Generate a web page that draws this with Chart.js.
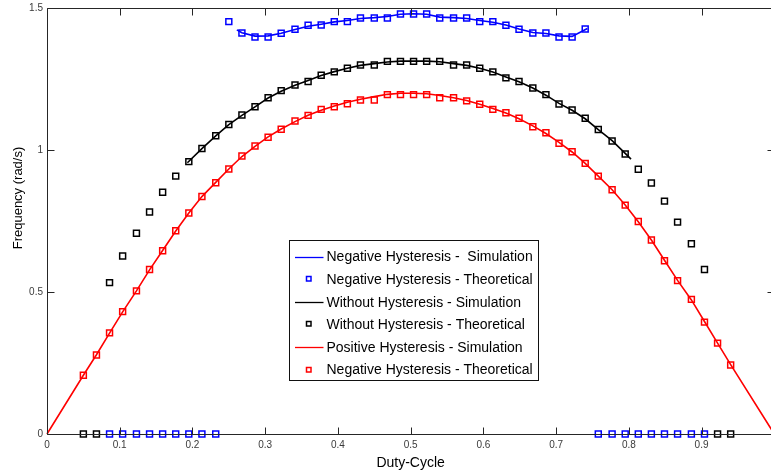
<!DOCTYPE html>
<html>
<head>
<meta charset="utf-8">
<title>Frequency vs Duty-Cycle</title>
<script src="https://cdn.jsdelivr.net/npm/chart.js@4/dist/chart.umd.min.js"></script>
<style>
    html, body { margin: 0; padding: 0; background: #fff; overflow: hidden; }
    #wrap { width: 780px; height: 474px; }
</style>
</head>
<body>
<div id="wrap"><canvas id="freqChart" width="780" height="474"></canvas></div>
<script>
// Duty-cycle values where the theoretical frequency was evaluated
const dutyGrid = [
    0.050, 0.068, 0.086, 0.104, 0.123, 0.141, 0.159, 0.177, 0.195, 0.213,
    0.232, 0.250, 0.268, 0.286, 0.304, 0.322, 0.341, 0.359, 0.377, 0.395,
    0.413, 0.431, 0.450, 0.468, 0.486, 0.504, 0.522, 0.540, 0.559, 0.577,
    0.595, 0.613, 0.631, 0.649, 0.668, 0.686, 0.704, 0.722, 0.740, 0.758,
    0.777, 0.795, 0.813, 0.831, 0.849, 0.867, 0.886, 0.904, 0.922, 0.940
];

// Theoretical frequency (rad/s), one value per duty-cycle point (null = not plotted)
const negTheory = [
    null, null, 0, 0, 0, 0, 0, 0, 0, 0,
    0, 1.452, 1.412, 1.398, 1.398, 1.411, 1.425, 1.439, 1.440, 1.452,
    1.452, 1.465, 1.465, 1.465, 1.479, 1.479, 1.479, 1.465, 1.465, 1.465,
    1.452, 1.452, 1.439, 1.425, 1.412, 1.412, 1.398, 1.398, 1.426, 0,
    0, 0, 0, 0, 0, 0, 0, 0, null, null
];
const zeroTheory = [
    0, 0, 0.533, 0.627, 0.707, 0.782, 0.851, 0.908, 0.959, 1.005,
    1.050, 1.090, 1.123, 1.152, 1.184, 1.209, 1.229, 1.241, 1.263, 1.275,
    1.288, 1.299, 1.299, 1.312, 1.312, 1.312, 1.312, 1.312, 1.299, 1.299,
    1.288, 1.275, 1.254, 1.241, 1.218, 1.195, 1.162, 1.141, 1.112, 1.072,
    1.032, 0.986, 0.932, 0.884, 0.820, 0.746, 0.670, 0.579, 0, 0
];
const posTheory = [
    0.207, 0.278, 0.356, 0.431, 0.504, 0.579, 0.645, 0.716, 0.778, 0.836,
    0.885, 0.933, 0.979, 1.014, 1.045, 1.073, 1.102, 1.122, 1.143, 1.152,
    1.163, 1.176, 1.176, 1.195, 1.195, 1.195, 1.195, 1.184, 1.184, 1.173,
    1.161, 1.143, 1.131, 1.112, 1.082, 1.061, 1.024, 0.994, 0.953, 0.908,
    0.860, 0.806, 0.748, 0.683, 0.610, 0.540, 0.474, 0.394, 0.320, 0.243
];

// Simulated curves
const negSimDuty = [
    0.261, 0.268, 0.286, 0.304, 0.322, 0.341, 0.359, 0.377, 0.395, 0.413,
    0.431, 0.450, 0.468, 0.486, 0.504, 0.522, 0.540, 0.559, 0.577, 0.595,
    0.613, 0.631, 0.649, 0.668, 0.686, 0.704, 0.722, 0.743
];
const negSimFreq = [
    1.423, 1.413, 1.401, 1.402, 1.411, 1.424, 1.436, 1.443, 1.451, 1.456,
    1.463, 1.466, 1.470, 1.478, 1.480, 1.478, 1.468, 1.466, 1.463, 1.456,
    1.450, 1.440, 1.426, 1.414, 1.410, 1.402, 1.400, 1.428
];
const zeroSimDuty = [
    0.193, 0.213, 0.232, 0.250, 0.268, 0.286, 0.304, 0.322, 0.341, 0.359,
    0.377, 0.395, 0.413, 0.431, 0.450, 0.468, 0.486, 0.504, 0.522, 0.540,
    0.559, 0.577, 0.595, 0.613, 0.631, 0.649, 0.668, 0.686, 0.704, 0.722,
    0.740, 0.758, 0.777, 0.795, 0.803
];
const zeroSimFreq = [
    0.955, 1.005, 1.050, 1.089, 1.122, 1.152, 1.183, 1.207, 1.228, 1.245,
    1.262, 1.276, 1.288, 1.298, 1.304, 1.310, 1.313, 1.313, 1.313, 1.311,
    1.304, 1.298, 1.288, 1.275, 1.257, 1.240, 1.218, 1.193, 1.164, 1.140,
    1.110, 1.072, 1.033, 0.988, 0.968
];
const posSimDuty = [
    0, 0.050, 0.068, 0.086, 0.104, 0.123, 0.141, 0.159, 0.177, 0.195,
    0.213, 0.232, 0.250, 0.268, 0.286, 0.304, 0.322, 0.341, 0.359, 0.377,
    0.395, 0.413, 0.431, 0.450, 0.468, 0.486, 0.504, 0.522, 0.540, 0.559,
    0.577, 0.595, 0.613, 0.631, 0.649, 0.668, 0.686, 0.704, 0.722, 0.740,
    0.758, 0.777, 0.795, 0.813, 0.831, 0.849, 0.867, 0.886, 0.904, 0.922,
    0.940, 1.0
];
const posSimFreq = [
    0, 0.207, 0.279, 0.355, 0.430, 0.504, 0.578, 0.646, 0.715, 0.778,
    0.836, 0.886, 0.933, 0.977, 1.013, 1.046, 1.074, 1.100, 1.122, 1.140,
    1.155, 1.168, 1.179, 1.188, 1.196, 1.200, 1.200, 1.198, 1.192, 1.184,
    1.174, 1.161, 1.146, 1.130, 1.110, 1.085, 1.058, 1.027, 0.993, 0.953,
    0.908, 0.860, 0.806, 0.747, 0.683, 0.612, 0.541, 0.472, 0.396, 0.320,
    0.244, 0
];

// Axis ticks
const xTicks = [0, 0.1, 0.2, 0.3, 0.4, 0.5, 0.6, 0.7, 0.8, 0.9, 1];
const yTicks = [0, 0.5, 1, 1.5];

const AXIS_COLOR = '#262626';
const FONT = "'Liberation Sans', Arial, sans-serif";

function toPoints(xs, ys) {
    const pts = [];
    xs.forEach((x, i) => {
        if (ys[i] !== null) pts.push({ x: x, y: ys[i] });
    });
    return pts;
}

function simLine(label, color, xs, ys) {
    return {
        label: label,
        data: toPoints(xs, ys),
        showLine: true,
        borderColor: color,
        backgroundColor: color,
        borderWidth: 1.6,
        pointRadius: 0,
        tension: 0,
        clip: false
    };
}

function theoryMarks(label, color, ys) {
    return {
        label: label,
        data: toPoints(dutyGrid, ys),
        showLine: false,
        borderColor: color,
        backgroundColor: 'rgba(0,0,0,0)',
        pointStyle: 'rect',
        pointRadius: 4.2,
        pointBorderWidth: 1.5,
        pointBorderColor: color,
        pointBackgroundColor: 'rgba(0,0,0,0)',
        clip: false
    };
}

// Frame with inward tick marks on all four sides, plus axis titles
const framePlugin = {
    id: 'framePlugin',
    afterDraw(chart) {
        const ctx = chart.ctx;
        const area = chart.chartArea;
        const xs = chart.scales.x;
        const ys = chart.scales.y;
        const L = Math.round(area.left) + 0.5;
        const R = Math.round(area.right) + 0.5;
        const T = Math.round(area.top) + 0.5;
        const B = Math.round(area.bottom) + 0.5;
        const tick = 7;

        ctx.save();
        ctx.strokeStyle = AXIS_COLOR;
        ctx.lineWidth = 1;
        ctx.beginPath();
        ctx.moveTo(L, T); ctx.lineTo(R, T);
        ctx.moveTo(L, B); ctx.lineTo(R, B);
        ctx.moveTo(L, T); ctx.lineTo(L, B);
        ctx.moveTo(R, T); ctx.lineTo(R, B);

        xTicks.forEach(v => {
            const px = Math.round(xs.getPixelForValue(v)) + 0.5;
            ctx.moveTo(px, B); ctx.lineTo(px, B - tick);
            ctx.moveTo(px, T); ctx.lineTo(px, T + tick);
        });
        yTicks.forEach(v => {
            const py = Math.round(ys.getPixelForValue(v)) + 0.5;
            ctx.moveTo(L, py); ctx.lineTo(L + tick, py);
            ctx.moveTo(R, py); ctx.lineTo(R - tick, py);
        });
        ctx.stroke();

        // Axis titles
        ctx.fillStyle = '#000';
        ctx.textAlign = 'center';
        ctx.textBaseline = 'middle';
        ctx.font = '14px ' + FONT;
        ctx.fillText('Duty-Cycle', xs.getPixelForValue(0.5), 463);

        ctx.translate(18, 198);
        ctx.rotate(-Math.PI / 2);
        ctx.font = '13px ' + FONT;
        ctx.fillText('Frequency (rad/s)', 0, 0);
        ctx.restore();
    }
};

// Boxed legend inside the plot
const boxLegendPlugin = {
    id: 'boxLegendPlugin',
    afterDraw(chart) {
        const ctx = chart.ctx;
        const box = { x: 289.5, y: 240.5, w: 249, h: 140 };
        const rowTop = 256.5;
        const rowStep = 22.6;

        ctx.save();
        ctx.fillStyle = '#fff';
        ctx.fillRect(box.x, box.y, box.w, box.h);
        ctx.strokeStyle = '#111';
        ctx.lineWidth = 1;
        ctx.strokeRect(box.x, box.y, box.w, box.h);

        ctx.font = '14px ' + FONT;
        ctx.textAlign = 'left';
        ctx.textBaseline = 'middle';

        chart.data.datasets.forEach((ds, i) => {
            const cy = rowTop + i * rowStep;
            if (ds.showLine) {
                ctx.strokeStyle = ds.borderColor;
                ctx.lineWidth = 1.3;
                ctx.beginPath();
                ctx.moveTo(295, Math.round(cy) + 0.5);
                ctx.lineTo(323.5, Math.round(cy) + 0.5);
                ctx.stroke();
            } else {
                ctx.strokeStyle = ds.borderColor;
                ctx.lineWidth = 1.5;
                ctx.strokeRect(306.5, Math.round(cy) - 2.5, 4.5, 4.5);
            }
            ctx.fillStyle = '#000';
            ctx.fillText(ds.label, 326.5, cy + 1);
        });
        ctx.restore();
    }
};

const freqCtx = document.getElementById('freqChart').getContext('2d');
new Chart(freqCtx, {
    type: 'scatter',
    data: {
        datasets: [
            simLine('Negative Hysteresis -  Simulation', '#0000ff', negSimDuty, negSimFreq),
            theoryMarks('Negative Hysteresis - Theoretical', '#0000ff', negTheory),
            simLine('Without Hysteresis - Simulation', '#000000', zeroSimDuty, zeroSimFreq),
            theoryMarks('Without Hysteresis - Theoretical', '#000000', zeroTheory),
            simLine('Positive Hysteresis - Simulation', '#ff0000', posSimDuty, posSimFreq),
            theoryMarks('Negative Hysteresis - Theoretical', '#ff0000', posTheory)
        ]
    },
    options: {
        responsive: false,
        animation: false,
        layout: { padding: { top: 8, right: 2, left: 0, bottom: 0 } },
        plugins: {
            legend: { display: false },
            tooltip: { enabled: false }
        },
        scales: {
            x: {
                type: 'linear',
                min: 0,
                max: 1,
                afterBuildTicks: scale => { scale.ticks = xTicks.map(v => ({ value: v })); },
                afterFit: scale => {
                    scale.height = 40;
                    scale.paddingLeft = 0;
                    scale.paddingRight = 0;
                },
                grid: { display: false, drawTicks: false },
                border: { display: false },
                ticks: {
                    padding: 5,
                    maxRotation: 0,
                    autoSkip: false,
                    color: '#3a3a3a',
                    font: { family: FONT, size: 10 },
                    callback: v => String(v)
                }
            },
            y: {
                type: 'linear',
                min: 0,
                max: 1.5,
                afterBuildTicks: scale => { scale.ticks = yTicks.map(v => ({ value: v })); },
                afterFit: scale => {
                    scale.width = 47;
                    scale.paddingTop = 0;
                    scale.paddingBottom = 0;
                },
                grid: { display: false, drawTicks: false },
                border: { display: false },
                ticks: {
                    padding: 4,
                    autoSkip: false,
                    color: '#3a3a3a',
                    font: { family: FONT, size: 10 },
                    callback: v => String(v)
                }
            }
        }
    },
    plugins: [framePlugin, boxLegendPlugin]
});
</script>
</body>
</html>
